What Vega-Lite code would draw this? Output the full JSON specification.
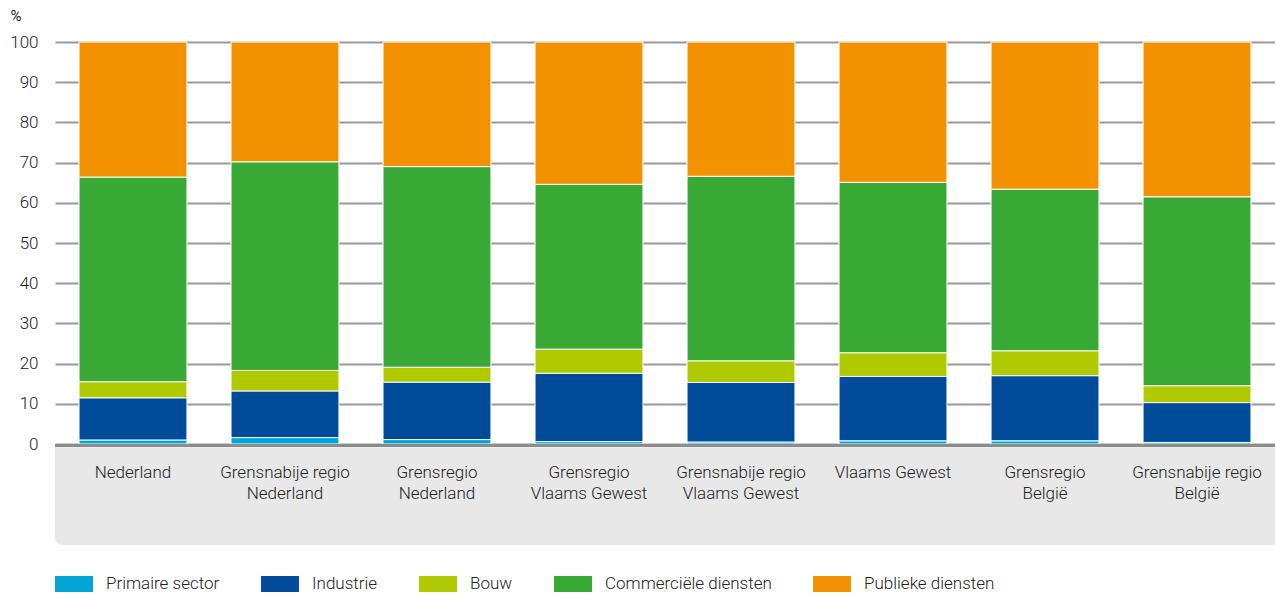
{
  "$schema": "https://vega.github.io/schema/vega-lite/v6.json",
  "width": 1220,
  "height": 402,
  "autosize": {"type": "none"},
  "padding": {"left": 55, "top": 42, "right": 0, "bottom": 150},
  "background": "white",
  "config": {
    "view": {"stroke": null},
    "font": "Roboto",
    "axis": {"labelFont": "Roboto", "labelColor": "#222222", "titleColor": "#222222", "labelFontWeight": 300}
  },
  "layer": [
    {
      "data": {"values": [{"panel": "achtergrond"}]},
      "mark": {"type": "rect", "color": "#e8e8e8", "cornerRadiusBottomLeft": 8},
      "encoding": {
        "y": {"datum": -0.8, "type": "quantitative", "scale": {"domain": [0, 100], "nice": false}},
        "y2": {"datum": -25.1}
      }
    },
    {
      "data": {"values": [
        {"regio": "Nederland", "sector": "Primaire sector", "pct": 1.0},
        {"regio": "Nederland", "sector": "Industrie", "pct": 10.5},
        {"regio": "Nederland", "sector": "Bouw", "pct": 4.0},
        {"regio": "Nederland", "sector": "Commerciële diensten", "pct": 50.9},
        {"regio": "Nederland", "sector": "Publieke diensten", "pct": 33.6},
        {"regio": "Grensnabije regio Nederland", "sector": "Primaire sector", "pct": 1.6},
        {"regio": "Grensnabije regio Nederland", "sector": "Industrie", "pct": 11.6},
        {"regio": "Grensnabije regio Nederland", "sector": "Bouw", "pct": 5.1},
        {"regio": "Grensnabije regio Nederland", "sector": "Commerciële diensten", "pct": 51.9},
        {"regio": "Grensnabije regio Nederland", "sector": "Publieke diensten", "pct": 29.8},
        {"regio": "Grensregio Nederland", "sector": "Primaire sector", "pct": 1.1},
        {"regio": "Grensregio Nederland", "sector": "Industrie", "pct": 14.3},
        {"regio": "Grensregio Nederland", "sector": "Bouw", "pct": 3.7},
        {"regio": "Grensregio Nederland", "sector": "Commerciële diensten", "pct": 49.9},
        {"regio": "Grensregio Nederland", "sector": "Publieke diensten", "pct": 31.0},
        {"regio": "Grensregio Vlaams Gewest", "sector": "Primaire sector", "pct": 0.6},
        {"regio": "Grensregio Vlaams Gewest", "sector": "Industrie", "pct": 17.0},
        {"regio": "Grensregio Vlaams Gewest", "sector": "Bouw", "pct": 6.0},
        {"regio": "Grensregio Vlaams Gewest", "sector": "Commerciële diensten", "pct": 41.0},
        {"regio": "Grensregio Vlaams Gewest", "sector": "Publieke diensten", "pct": 35.4},
        {"regio": "Grensnabije regio Vlaams Gewest", "sector": "Primaire sector", "pct": 0.5},
        {"regio": "Grensnabije regio Vlaams Gewest", "sector": "Industrie", "pct": 14.8},
        {"regio": "Grensnabije regio Vlaams Gewest", "sector": "Bouw", "pct": 5.4},
        {"regio": "Grensnabije regio Vlaams Gewest", "sector": "Commerciële diensten", "pct": 45.9},
        {"regio": "Grensnabije regio Vlaams Gewest", "sector": "Publieke diensten", "pct": 33.4},
        {"regio": "Vlaams Gewest", "sector": "Primaire sector", "pct": 0.8},
        {"regio": "Vlaams Gewest", "sector": "Industrie", "pct": 16.0},
        {"regio": "Vlaams Gewest", "sector": "Bouw", "pct": 5.9},
        {"regio": "Vlaams Gewest", "sector": "Commerciële diensten", "pct": 42.4},
        {"regio": "Vlaams Gewest", "sector": "Publieke diensten", "pct": 34.9},
        {"regio": "Grensregio België", "sector": "Primaire sector", "pct": 0.8},
        {"regio": "Grensregio België", "sector": "Industrie", "pct": 16.2},
        {"regio": "Grensregio België", "sector": "Bouw", "pct": 6.2},
        {"regio": "Grensregio België", "sector": "Commerciële diensten", "pct": 40.2},
        {"regio": "Grensregio België", "sector": "Publieke diensten", "pct": 36.6},
        {"regio": "Grensnabije regio België", "sector": "Primaire sector", "pct": 0.4},
        {"regio": "Grensnabije regio België", "sector": "Industrie", "pct": 9.9},
        {"regio": "Grensnabije regio België", "sector": "Bouw", "pct": 4.2},
        {"regio": "Grensnabije regio België", "sector": "Commerciële diensten", "pct": 47.0},
        {"regio": "Grensnabije regio België", "sector": "Publieke diensten", "pct": 38.5}
      ]},
      "transform": [
        {"calculate": "indexof(['Primaire sector','Industrie','Bouw','Commerciële diensten','Publieke diensten'], datum.sector)", "as": "volgorde"}
      ],
      "mark": {"type": "bar", "stroke": "white", "strokeWidth": 1},
      "encoding": {
        "x": {
          "field": "regio",
          "type": "nominal",
          "sort": null,
          "scale": {"paddingInner": 0.29, "paddingOuter": 0.158},
          "axis": {
            "title": null,
            "domain": false,
            "ticks": false,
            "zindex": 2,
            "labelAngle": 0,
            "labelFontSize": 17,
            "labelPadding": 20,
            "labelBaseline": "top",
            "labelLineHeight": 21,
            "labelLimit": 220,
            "labelExpr": "indexof(datum.label, 'regio ') >= 0 ? [substring(datum.label, 0, indexof(datum.label, 'regio ') + 5), substring(datum.label, indexof(datum.label, 'regio ') + 6)] : datum.label"
          }
        },
        "y": {
          "field": "pct",
          "type": "quantitative",
          "stack": "zero",
          "scale": {"domain": [0, 100], "nice": false},
          "axis": {
            "values": [0, 10, 20, 30, 40, 50, 60, 70, 80, 90, 100],
            "domain": false,
            "ticks": false,
            "tickSize": 0,
            "labelPadding": 17,
            "labelFontSize": 17,
            "grid": true,
            "gridColor": "#999999",
            "gridWidth": 2,
            "title": "%",
            "titleAngle": 0,
            "titleAlign": "left",
            "titleBaseline": "alphabetic",
            "titleX": -45,
            "titleY": -22,
            "titleFontSize": 15,
            "titleFontWeight": "normal"
          }
        },
        "color": {
          "field": "sector",
          "type": "nominal",
          "sort": ["Primaire sector", "Industrie", "Bouw", "Commerciële diensten", "Publieke diensten"],
          "scale": {
            "domain": ["Primaire sector", "Industrie", "Bouw", "Commerciële diensten", "Publieke diensten"],
            "range": ["#00a6d6", "#004c9b", "#afcb00", "#38a935", "#f39200"]
          },
          "legend": {
            "orient": "none",
            "direction": "horizontal",
            "legendX": 0,
            "legendY": 523,
            "title": null,
            "symbolType": "M-1,-0.42H1V0.42H-1Z",
            "symbolSize": 1444,
            "symbolStrokeWidth": 0,
            "labelOffset": 13,
            "columnPadding": 41,
            "labelFontSize": 17,
            "labelLimit": 400,
            "labelFont": "Roboto",
            "labelFontWeight": 300,
            "labelColor": "#222222"
          }
        },
        "order": {"field": "volgorde", "type": "quantitative", "sort": "ascending"}
      }
    },
    {
      "data": {"values": [{"lijn": "basis"}]},
      "mark": {"type": "rule", "color": "#8c8c8c", "strokeWidth": 3},
      "encoding": {
        "y": {"datum": -0.4, "type": "quantitative", "scale": {"domain": [0, 100], "nice": false}}
      }
    }
  ]
}
